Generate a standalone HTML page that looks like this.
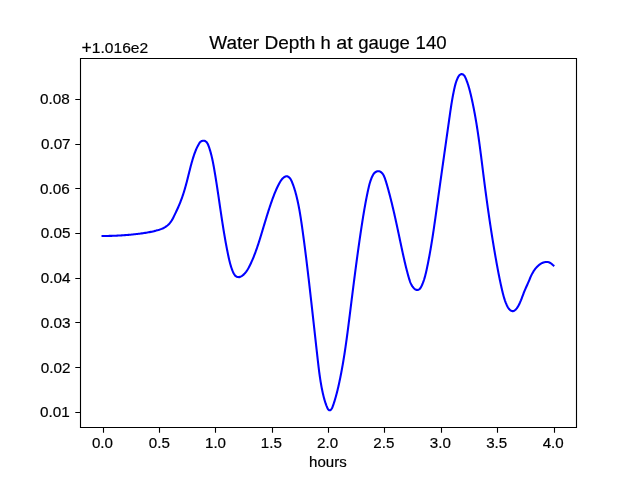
<!DOCTYPE html>
<html><head><meta charset="utf-8"><title>Water Depth h at gauge 140</title>
<style>
html,body{margin:0;padding:0;background:#fff;}
body{width:640px;height:480px;overflow:hidden;}
svg{display:block;will-change:transform;}
text{font-family:"Liberation Sans",sans-serif;fill:#000;stroke:#000;stroke-width:0.18px;}
</style></head><body>
<svg width="640" height="480" viewBox="0 0 640 480">
<rect x="0" y="0" width="640" height="480" fill="#fff"/>
<path d="M102.55,235.97 L103.67,235.97 L104.80,235.97 L105.92,235.96 L107.05,235.94 L108.18,235.93 L109.31,235.91 L110.43,235.88 L111.56,235.85 L112.68,235.81 L113.81,235.78 L114.93,235.73 L116.06,235.68 L117.18,235.63 L118.31,235.58 L119.43,235.52 L120.56,235.45 L121.68,235.38 L122.80,235.31 L123.93,235.23 L125.05,235.15 L126.17,235.06 L127.29,234.97 L128.42,234.87 L129.54,234.77 L130.66,234.67 L131.78,234.56 L132.90,234.45 L134.02,234.33 L135.14,234.21 L136.26,234.08 L137.38,233.95 L138.50,233.81 L139.62,233.67 L140.73,233.53 L141.85,233.38 L142.97,233.22 L144.08,233.06 L145.20,232.89 L146.31,232.71 L147.42,232.52 L148.53,232.32 L149.63,232.11 L150.74,231.89 L151.84,231.66 L152.94,231.41 L154.04,231.15 L155.13,230.88 L156.22,230.60 L157.31,230.29 L158.39,229.98 L159.46,229.64 L160.53,229.27 L161.58,228.88 L162.62,228.44 L163.63,227.97 L164.62,227.44 L165.58,226.86 L166.51,226.22 L167.41,225.52 L168.26,224.76 L169.07,223.95 L169.82,223.10 L170.52,222.21 L171.17,221.29 L171.77,220.35 L172.34,219.38 L172.88,218.40 L173.40,217.40 L173.90,216.39 L174.39,215.38 L174.88,214.37 L175.37,213.35 L175.86,212.34 L176.35,211.32 L176.83,210.30 L177.30,209.28 L177.77,208.25 L178.22,207.22 L178.67,206.19 L179.11,205.15 L179.54,204.11 L179.97,203.07 L180.38,202.02 L180.79,200.97 L181.19,199.91 L181.58,198.86 L181.97,197.80 L182.34,196.73 L182.71,195.67 L183.07,194.60 L183.42,193.53 L183.76,192.46 L184.10,191.39 L184.43,190.31 L184.75,189.23 L185.06,188.15 L185.37,187.07 L185.67,185.99 L185.97,184.90 L186.26,183.81 L186.55,182.73 L186.83,181.64 L187.11,180.55 L187.39,179.46 L187.67,178.37 L187.94,177.27 L188.21,176.18 L188.48,175.09 L188.76,174.00 L189.03,172.90 L189.30,171.81 L189.58,170.72 L189.85,169.63 L190.13,168.54 L190.41,167.44 L190.70,166.35 L190.99,165.26 L191.28,164.18 L191.58,163.09 L191.89,162.00 L192.20,160.92 L192.52,159.83 L192.84,158.75 L193.17,157.67 L193.51,156.59 L193.87,155.52 L194.23,154.45 L194.60,153.38 L194.99,152.32 L195.39,151.27 L195.81,150.22 L196.25,149.19 L196.71,148.16 L197.19,147.15 L197.68,146.15 L198.21,145.16 L198.75,144.18 L199.33,143.22 L199.98,142.33 L200.79,141.56 L201.81,140.98 L202.98,140.67 L204.16,140.69 L205.22,141.07 L206.14,141.73 L206.90,142.56 L207.52,143.49 L208.02,144.49 L208.45,145.54 L208.83,146.61 L209.20,147.68 L209.55,148.76 L209.89,149.84 L210.22,150.92 L210.53,152.01 L210.83,153.10 L211.12,154.19 L211.40,155.28 L211.66,156.38 L211.92,157.47 L212.17,158.57 L212.41,159.67 L212.64,160.77 L212.87,161.87 L213.09,162.98 L213.30,164.08 L213.51,165.19 L213.71,166.30 L213.91,167.40 L214.10,168.51 L214.29,169.62 L214.48,170.73 L214.67,171.84 L214.86,172.95 L215.05,174.06 L215.23,175.17 L215.41,176.28 L215.59,177.39 L215.77,178.51 L215.95,179.62 L216.13,180.73 L216.30,181.84 L216.47,182.95 L216.65,184.07 L216.82,185.18 L216.99,186.29 L217.16,187.41 L217.33,188.52 L217.50,189.63 L217.66,190.75 L217.83,191.86 L218.00,192.98 L218.16,194.09 L218.33,195.20 L218.49,196.32 L218.66,197.43 L218.82,198.55 L218.98,199.66 L219.15,200.78 L219.31,201.89 L219.47,203.01 L219.64,204.12 L219.80,205.24 L219.96,206.35 L220.13,207.47 L220.29,208.58 L220.46,209.70 L220.62,210.81 L220.79,211.92 L220.95,213.04 L221.12,214.15 L221.28,215.27 L221.45,216.38 L221.62,217.50 L221.79,218.61 L221.96,219.72 L222.13,220.84 L222.30,221.95 L222.47,223.06 L222.64,224.18 L222.82,225.29 L223.00,226.40 L223.17,227.51 L223.35,228.63 L223.53,229.74 L223.71,230.85 L223.90,231.96 L224.08,233.07 L224.27,234.18 L224.45,235.29 L224.64,236.40 L224.84,237.51 L225.03,238.62 L225.22,239.73 L225.42,240.84 L225.62,241.95 L225.82,243.06 L226.03,244.16 L226.23,245.27 L226.44,246.38 L226.65,247.48 L226.87,248.59 L227.08,249.69 L227.30,250.80 L227.52,251.90 L227.74,253.01 L227.97,254.11 L228.20,255.21 L228.43,256.31 L228.67,257.42 L228.91,258.52 L229.16,259.61 L229.42,260.71 L229.69,261.80 L229.97,262.89 L230.26,263.98 L230.57,265.06 L230.89,266.14 L231.23,267.21 L231.59,268.28 L231.97,269.34 L232.36,270.40 L232.79,271.45 L233.25,272.48 L233.76,273.50 L234.33,274.48 L234.99,275.40 L235.78,276.18 L236.76,276.76 L237.88,277.08 L239.03,277.12 L240.13,276.87 L241.16,276.40 L242.12,275.79 L243.02,275.11 L243.86,274.36 L244.64,273.56 L245.38,272.72 L246.08,271.83 L246.73,270.90 L247.35,269.95 L247.94,268.99 L248.51,268.00 L249.05,267.01 L249.57,266.01 L250.07,265.00 L250.56,263.99 L251.04,262.97 L251.50,261.94 L251.96,260.92 L252.41,259.88 L252.85,258.85 L253.28,257.81 L253.70,256.77 L254.12,255.72 L254.52,254.67 L254.93,253.62 L255.32,252.57 L255.71,251.51 L256.09,250.45 L256.47,249.39 L256.84,248.33 L257.21,247.27 L257.57,246.20 L257.92,245.13 L258.28,244.06 L258.63,242.99 L258.97,241.91 L259.31,240.84 L259.65,239.77 L259.99,238.69 L260.32,237.61 L260.65,236.53 L260.98,235.46 L261.31,234.38 L261.64,233.30 L261.96,232.22 L262.29,231.14 L262.61,230.06 L262.93,228.98 L263.26,227.90 L263.58,226.82 L263.90,225.74 L264.23,224.67 L264.55,223.59 L264.88,222.51 L265.20,221.43 L265.53,220.35 L265.86,219.28 L266.19,218.20 L266.52,217.12 L266.85,216.05 L267.18,214.97 L267.52,213.90 L267.86,212.83 L268.20,211.75 L268.54,210.68 L268.89,209.61 L269.24,208.54 L269.59,207.47 L269.94,206.40 L270.30,205.33 L270.66,204.27 L271.03,203.20 L271.40,202.14 L271.77,201.08 L272.15,200.02 L272.53,198.96 L272.92,197.90 L273.31,196.84 L273.71,195.79 L274.12,194.73 L274.53,193.68 L274.95,192.64 L275.38,191.60 L275.82,190.56 L276.27,189.52 L276.73,188.50 L277.20,187.47 L277.68,186.46 L278.18,185.44 L278.69,184.44 L279.22,183.44 L279.76,182.46 L280.34,181.49 L280.96,180.55 L281.62,179.64 L282.34,178.77 L283.13,177.96 L284.02,177.24 L285.02,176.66 L286.11,176.30 L287.20,176.30 L288.24,176.72 L289.17,177.42 L289.97,178.27 L290.62,179.20 L291.17,180.18 L291.65,181.21 L292.09,182.25 L292.51,183.30 L292.91,184.35 L293.30,185.41 L293.67,186.47 L294.03,187.53 L294.37,188.60 L294.70,189.68 L295.03,190.75 L295.34,191.84 L295.64,192.92 L295.93,194.01 L296.22,195.10 L296.50,196.20 L296.76,197.29 L297.03,198.39 L297.28,199.49 L297.53,200.59 L297.77,201.69 L298.01,202.79 L298.24,203.90 L298.46,205.00 L298.68,206.10 L298.89,207.21 L299.10,208.32 L299.31,209.42 L299.51,210.53 L299.70,211.64 L299.89,212.75 L300.08,213.86 L300.26,214.97 L300.44,216.08 L300.62,217.19 L300.79,218.30 L300.97,219.42 L301.13,220.53 L301.30,221.64 L301.46,222.76 L301.63,223.87 L301.79,224.99 L301.95,226.10 L302.11,227.22 L302.26,228.33 L302.42,229.45 L302.58,230.56 L302.73,231.68 L302.89,232.79 L303.04,233.91 L303.19,235.03 L303.34,236.14 L303.49,237.26 L303.64,238.37 L303.79,239.49 L303.94,240.61 L304.09,241.73 L304.23,242.84 L304.38,243.96 L304.52,245.08 L304.67,246.19 L304.81,247.31 L304.96,248.43 L305.10,249.55 L305.24,250.66 L305.38,251.78 L305.52,252.90 L305.66,254.02 L305.80,255.14 L305.94,256.25 L306.08,257.37 L306.22,258.49 L306.35,259.61 L306.49,260.73 L306.63,261.84 L306.76,262.96 L306.90,264.08 L307.03,265.20 L307.17,266.32 L307.30,267.44 L307.44,268.55 L307.57,269.67 L307.70,270.79 L307.84,271.91 L307.97,273.03 L308.10,274.15 L308.23,275.27 L308.36,276.38 L308.49,277.50 L308.63,278.62 L308.76,279.74 L308.89,280.86 L309.02,281.98 L309.15,283.10 L309.28,284.21 L309.40,285.33 L309.53,286.45 L309.66,287.57 L309.79,288.69 L309.92,289.81 L310.05,290.93 L310.17,292.05 L310.30,293.16 L310.43,294.28 L310.56,295.40 L310.68,296.52 L310.81,297.64 L310.94,298.76 L311.06,299.88 L311.19,301.00 L311.32,302.12 L311.44,303.23 L311.57,304.35 L311.69,305.47 L311.82,306.59 L311.94,307.71 L312.07,308.83 L312.19,309.95 L312.32,311.07 L312.44,312.19 L312.57,313.31 L312.69,314.42 L312.82,315.54 L312.94,316.66 L313.07,317.78 L313.19,318.90 L313.32,320.02 L313.44,321.14 L313.56,322.26 L313.69,323.38 L313.81,324.50 L313.94,325.62 L314.06,326.74 L314.18,327.86 L314.31,328.97 L314.43,330.09 L314.56,331.21 L314.68,332.33 L314.81,333.45 L314.93,334.57 L315.05,335.69 L315.18,336.81 L315.30,337.93 L315.43,339.05 L315.55,340.17 L315.68,341.29 L315.80,342.41 L315.93,343.53 L316.05,344.65 L316.17,345.77 L316.30,346.89 L316.43,348.01 L316.55,349.13 L316.68,350.25 L316.80,351.37 L316.93,352.49 L317.05,353.61 L317.18,354.73 L317.30,355.85 L317.43,356.97 L317.56,358.09 L317.68,359.21 L317.81,360.33 L317.94,361.45 L318.07,362.57 L318.20,363.69 L318.33,364.81 L318.46,365.93 L318.59,367.05 L318.73,368.16 L318.87,369.28 L319.01,370.40 L319.15,371.52 L319.30,372.63 L319.45,373.75 L319.60,374.87 L319.76,375.98 L319.92,377.09 L320.08,378.21 L320.25,379.32 L320.43,380.43 L320.60,381.54 L320.79,382.65 L320.98,383.76 L321.17,384.87 L321.37,385.97 L321.57,387.08 L321.78,388.18 L322.00,389.29 L322.22,390.39 L322.46,391.49 L322.69,392.59 L322.94,393.68 L323.19,394.78 L323.45,395.87 L323.72,396.96 L324.00,398.05 L324.30,399.14 L324.61,400.23 L324.93,401.31 L325.27,402.39 L325.63,403.47 L326.02,404.54 L326.42,405.61 L326.85,406.68 L327.30,407.74 L327.80,408.77 L328.45,409.67 L329.34,410.28 L330.32,410.17 L331.18,409.43 L331.83,408.51 L332.32,407.50 L332.73,406.44 L333.11,405.37 L333.48,404.30 L333.84,403.22 L334.19,402.14 L334.53,401.07 L334.86,399.98 L335.19,398.90 L335.50,397.82 L335.81,396.73 L336.11,395.64 L336.41,394.55 L336.69,393.46 L336.97,392.37 L337.25,391.28 L337.52,390.18 L337.78,389.09 L338.04,387.99 L338.29,386.90 L338.54,385.80 L338.79,384.70 L339.03,383.60 L339.27,382.50 L339.50,381.40 L339.73,380.30 L339.96,379.20 L340.19,378.09 L340.41,376.99 L340.63,375.89 L340.85,374.78 L341.06,373.68 L341.27,372.57 L341.48,371.47 L341.69,370.36 L341.89,369.25 L342.10,368.15 L342.29,367.04 L342.49,365.93 L342.69,364.82 L342.88,363.71 L343.07,362.61 L343.25,361.50 L343.44,360.39 L343.62,359.27 L343.80,358.16 L343.98,357.05 L344.16,355.94 L344.34,354.83 L344.51,353.72 L344.68,352.60 L344.85,351.49 L345.02,350.38 L345.18,349.26 L345.35,348.15 L345.51,347.04 L345.67,345.92 L345.83,344.81 L345.99,343.69 L346.15,342.58 L346.31,341.46 L346.46,340.35 L346.62,339.23 L346.77,338.11 L346.92,337.00 L347.07,335.88 L347.22,334.76 L347.37,333.65 L347.52,332.53 L347.66,331.41 L347.81,330.30 L347.95,329.18 L348.10,328.06 L348.24,326.94 L348.39,325.83 L348.53,324.71 L348.67,323.59 L348.81,322.47 L348.95,321.35 L349.10,320.24 L349.24,319.12 L349.38,318.00 L349.52,316.88 L349.66,315.76 L349.80,314.65 L349.94,313.53 L350.08,312.41 L350.22,311.29 L350.36,310.17 L350.50,309.05 L350.64,307.94 L350.78,306.82 L350.92,305.70 L351.06,304.58 L351.20,303.46 L351.34,302.35 L351.48,301.23 L351.62,300.11 L351.76,298.99 L351.90,297.88 L352.04,296.76 L352.18,295.64 L352.32,294.52 L352.46,293.40 L352.60,292.29 L352.74,291.17 L352.89,290.05 L353.03,288.93 L353.17,287.82 L353.31,286.70 L353.45,285.58 L353.60,284.46 L353.74,283.35 L353.88,282.23 L354.02,281.11 L354.17,280.00 L354.31,278.88 L354.46,277.76 L354.60,276.64 L354.75,275.53 L354.89,274.41 L355.04,273.29 L355.18,272.18 L355.33,271.06 L355.47,269.94 L355.62,268.83 L355.77,267.71 L355.92,266.59 L356.06,265.48 L356.21,264.36 L356.36,263.25 L356.51,262.13 L356.66,261.01 L356.81,259.90 L356.96,258.78 L357.11,257.67 L357.27,256.55 L357.42,255.43 L357.57,254.32 L357.73,253.20 L357.88,252.09 L358.03,250.97 L358.19,249.86 L358.35,248.74 L358.50,247.63 L358.66,246.51 L358.82,245.40 L358.97,244.28 L359.13,243.17 L359.29,242.05 L359.45,240.94 L359.61,239.83 L359.78,238.71 L359.94,237.60 L360.10,236.48 L360.26,235.37 L360.43,234.26 L360.59,233.14 L360.76,232.03 L360.93,230.92 L361.09,229.80 L361.26,228.69 L361.43,227.58 L361.60,226.46 L361.77,225.35 L361.94,224.24 L362.12,223.12 L362.29,222.01 L362.46,220.90 L362.64,219.79 L362.82,218.68 L362.99,217.56 L363.17,216.45 L363.35,215.34 L363.54,214.23 L363.72,213.12 L363.91,212.01 L364.10,210.90 L364.29,209.79 L364.48,208.68 L364.67,207.57 L364.87,206.46 L365.07,205.35 L365.27,204.24 L365.47,203.13 L365.68,202.02 L365.89,200.92 L366.10,199.81 L366.31,198.70 L366.53,197.59 L366.75,196.49 L366.97,195.38 L367.20,194.27 L367.43,193.17 L367.66,192.06 L367.90,190.96 L368.14,189.85 L368.39,188.75 L368.64,187.65 L368.90,186.55 L369.17,185.45 L369.45,184.36 L369.75,183.28 L370.06,182.20 L370.40,181.13 L370.76,180.07 L371.15,179.02 L371.56,177.98 L372.00,176.95 L372.48,175.94 L372.99,174.95 L373.57,174.00 L374.27,173.12 L375.12,172.36 L376.15,171.74 L377.27,171.33 L378.42,171.18 L379.52,171.34 L380.51,171.79 L381.40,172.42 L382.17,173.17 L382.84,174.03 L383.43,174.97 L383.95,175.98 L384.40,177.04 L384.82,178.13 L385.19,179.23 L385.55,180.33 L385.90,181.42 L386.24,182.51 L386.56,183.59 L386.88,184.67 L387.19,185.74 L387.49,186.82 L387.80,187.90 L388.10,188.98 L388.40,190.06 L388.69,191.14 L388.98,192.23 L389.27,193.31 L389.56,194.39 L389.85,195.48 L390.13,196.57 L390.41,197.66 L390.68,198.75 L390.96,199.83 L391.23,200.93 L391.50,202.02 L391.77,203.11 L392.04,204.20 L392.30,205.30 L392.56,206.39 L392.82,207.49 L393.08,208.58 L393.34,209.68 L393.59,210.78 L393.85,211.87 L394.10,212.97 L394.35,214.07 L394.60,215.17 L394.84,216.27 L395.09,217.37 L395.34,218.47 L395.58,219.57 L395.82,220.67 L396.06,221.77 L396.30,222.88 L396.54,223.98 L396.78,225.08 L397.02,226.18 L397.26,227.28 L397.49,228.39 L397.73,229.49 L397.97,230.59 L398.20,231.70 L398.43,232.80 L398.67,233.90 L398.90,235.01 L399.14,236.11 L399.37,237.21 L399.60,238.31 L399.83,239.42 L400.07,240.52 L400.30,241.62 L400.53,242.72 L400.77,243.83 L401.00,244.93 L401.23,246.03 L401.47,247.13 L401.70,248.23 L401.94,249.33 L402.18,250.43 L402.41,251.53 L402.65,252.63 L402.89,253.73 L403.13,254.83 L403.38,255.92 L403.62,257.02 L403.87,258.12 L404.12,259.21 L404.37,260.31 L404.62,261.41 L404.88,262.50 L405.14,263.60 L405.40,264.69 L405.66,265.78 L405.93,266.88 L406.20,267.97 L406.48,269.06 L406.76,270.16 L407.04,271.25 L407.33,272.34 L407.62,273.43 L407.92,274.52 L408.22,275.61 L408.52,276.70 L408.83,277.79 L409.15,278.87 L409.48,279.95 L409.84,281.02 L410.22,282.08 L410.65,283.12 L411.11,284.14 L411.63,285.13 L412.21,286.09 L412.86,287.01 L413.59,287.89 L414.40,288.73 L415.31,289.42 L416.35,289.84 L417.49,289.91 L418.61,289.65 L419.59,289.08 L420.34,288.28 L420.92,287.31 L421.43,286.29 L421.91,285.27 L422.36,284.23 L422.79,283.18 L423.19,282.13 L423.57,281.07 L423.94,280.01 L424.28,278.94 L424.60,277.86 L424.91,276.78 L425.21,275.69 L425.49,274.60 L425.76,273.51 L426.02,272.41 L426.27,271.32 L426.52,270.21 L426.75,269.11 L426.99,268.01 L427.22,266.91 L427.45,265.80 L427.67,264.70 L427.90,263.59 L428.12,262.49 L428.33,261.38 L428.55,260.28 L428.76,259.17 L428.97,258.06 L429.18,256.96 L429.39,255.85 L429.59,254.74 L429.79,253.63 L429.99,252.53 L430.19,251.42 L430.38,250.31 L430.57,249.20 L430.76,248.09 L430.95,246.98 L431.14,245.87 L431.32,244.76 L431.51,243.65 L431.69,242.53 L431.87,241.42 L432.05,240.31 L432.22,239.20 L432.40,238.09 L432.57,236.97 L432.74,235.86 L432.92,234.75 L433.09,233.63 L433.25,232.52 L433.42,231.41 L433.59,230.29 L433.75,229.18 L433.92,228.07 L434.08,226.95 L434.24,225.84 L434.40,224.72 L434.56,223.61 L434.72,222.49 L434.88,221.38 L435.04,220.26 L435.20,219.15 L435.36,218.03 L435.51,216.92 L435.67,215.80 L435.83,214.69 L435.98,213.57 L436.14,212.46 L436.29,211.34 L436.45,210.22 L436.60,209.11 L436.75,207.99 L436.91,206.88 L437.06,205.76 L437.22,204.64 L437.37,203.53 L437.53,202.41 L437.68,201.30 L437.84,200.18 L437.99,199.07 L438.15,197.95 L438.30,196.84 L438.46,195.72 L438.61,194.60 L438.77,193.49 L438.92,192.37 L439.08,191.26 L439.24,190.14 L439.39,189.03 L439.55,187.91 L439.70,186.79 L439.86,185.68 L440.02,184.56 L440.17,183.45 L440.33,182.33 L440.48,181.22 L440.64,180.10 L440.80,178.99 L440.95,177.87 L441.11,176.76 L441.27,175.64 L441.42,174.52 L441.58,173.41 L441.74,172.29 L441.89,171.18 L442.05,170.06 L442.21,168.95 L442.36,167.83 L442.52,166.72 L442.68,165.60 L442.84,164.49 L442.99,163.37 L443.15,162.25 L443.31,161.14 L443.47,160.02 L443.62,158.91 L443.78,157.79 L443.94,156.68 L444.09,155.56 L444.25,154.45 L444.41,153.33 L444.57,152.22 L444.73,151.10 L444.88,149.99 L445.04,148.87 L445.20,147.76 L445.36,146.64 L445.51,145.53 L445.67,144.41 L445.83,143.30 L445.99,142.18 L446.14,141.07 L446.30,139.95 L446.46,138.84 L446.62,137.72 L446.78,136.61 L446.93,135.49 L447.09,134.38 L447.25,133.26 L447.41,132.15 L447.56,131.03 L447.72,129.92 L447.88,128.80 L448.04,127.69 L448.20,126.57 L448.35,125.46 L448.51,124.34 L448.67,123.23 L448.83,122.11 L448.98,121.00 L449.14,119.88 L449.30,118.77 L449.46,117.65 L449.62,116.54 L449.77,115.42 L449.93,114.31 L450.09,113.19 L450.25,112.08 L450.41,110.96 L450.58,109.85 L450.74,108.73 L450.91,107.62 L451.08,106.51 L451.25,105.40 L451.43,104.28 L451.61,103.17 L451.79,102.06 L451.97,100.95 L452.16,99.84 L452.35,98.73 L452.55,97.62 L452.75,96.51 L452.96,95.40 L453.17,94.29 L453.39,93.19 L453.61,92.08 L453.84,90.98 L454.07,89.87 L454.31,88.77 L454.56,87.67 L454.82,86.57 L455.09,85.47 L455.38,84.38 L455.69,83.30 L456.02,82.23 L456.39,81.16 L456.78,80.11 L457.20,79.07 L457.67,78.05 L458.17,77.04 L458.74,76.07 L459.45,75.19 L460.38,74.48 L461.47,74.10 L462.57,74.24 L463.55,74.84 L464.32,75.66 L464.91,76.61 L465.40,77.63 L465.85,78.67 L466.28,79.72 L466.69,80.77 L467.09,81.83 L467.47,82.89 L467.83,83.96 L468.18,85.03 L468.51,86.11 L468.84,87.19 L469.15,88.27 L469.45,89.36 L469.74,90.45 L470.02,91.54 L470.29,92.63 L470.56,93.73 L470.82,94.82 L471.08,95.92 L471.33,97.02 L471.58,98.12 L471.82,99.22 L472.06,100.32 L472.30,101.42 L472.54,102.52 L472.77,103.62 L473.00,104.73 L473.22,105.83 L473.44,106.93 L473.66,108.04 L473.88,109.14 L474.09,110.25 L474.30,111.35 L474.51,112.46 L474.72,113.56 L474.92,114.67 L475.12,115.78 L475.31,116.89 L475.51,117.99 L475.70,119.10 L475.89,120.21 L476.08,121.32 L476.26,122.43 L476.45,123.54 L476.63,124.65 L476.81,125.76 L476.98,126.88 L477.16,127.99 L477.33,129.10 L477.50,130.21 L477.67,131.33 L477.84,132.44 L478.00,133.55 L478.17,134.67 L478.33,135.78 L478.49,136.90 L478.65,138.01 L478.81,139.13 L478.96,140.24 L479.12,141.36 L479.27,142.47 L479.42,143.59 L479.58,144.70 L479.73,145.82 L479.88,146.94 L480.02,148.05 L480.17,149.17 L480.32,150.29 L480.46,151.40 L480.61,152.52 L480.75,153.64 L480.90,154.76 L481.04,155.87 L481.18,156.99 L481.32,158.11 L481.46,159.23 L481.60,160.35 L481.75,161.46 L481.89,162.58 L482.03,163.70 L482.17,164.82 L482.31,165.94 L482.45,167.06 L482.59,168.17 L482.73,169.29 L482.87,170.41 L483.01,171.53 L483.15,172.65 L483.29,173.76 L483.43,174.88 L483.57,176.00 L483.71,177.12 L483.85,178.24 L484.00,179.35 L484.14,180.47 L484.28,181.59 L484.43,182.71 L484.57,183.82 L484.72,184.94 L484.86,186.06 L485.01,187.18 L485.16,188.29 L485.30,189.41 L485.45,190.53 L485.60,191.64 L485.75,192.76 L485.90,193.88 L486.05,194.99 L486.20,196.11 L486.35,197.23 L486.50,198.34 L486.65,199.46 L486.80,200.58 L486.96,201.69 L487.11,202.81 L487.27,203.92 L487.42,205.04 L487.58,206.15 L487.73,207.27 L487.89,208.39 L488.05,209.50 L488.21,210.62 L488.37,211.73 L488.53,212.85 L488.69,213.96 L488.85,215.08 L489.01,216.19 L489.17,217.30 L489.34,218.42 L489.50,219.53 L489.66,220.65 L489.83,221.76 L490.00,222.87 L490.16,223.99 L490.33,225.10 L490.50,226.21 L490.67,227.33 L490.84,228.44 L491.01,229.55 L491.18,230.67 L491.36,231.78 L491.53,232.89 L491.70,234.00 L491.88,235.12 L492.06,236.23 L492.23,237.34 L492.41,238.45 L492.59,239.56 L492.77,240.67 L492.95,241.79 L493.13,242.90 L493.32,244.01 L493.50,245.12 L493.68,246.23 L493.87,247.34 L494.06,248.45 L494.24,249.56 L494.43,250.67 L494.62,251.78 L494.81,252.89 L495.00,254.00 L495.20,255.11 L495.39,256.22 L495.58,257.33 L495.78,258.43 L495.98,259.54 L496.18,260.65 L496.37,261.76 L496.57,262.87 L496.78,263.98 L496.98,265.08 L497.18,266.19 L497.39,267.30 L497.59,268.40 L497.80,269.51 L498.01,270.62 L498.22,271.72 L498.43,272.83 L498.65,273.93 L498.86,275.04 L499.08,276.14 L499.30,277.25 L499.53,278.35 L499.75,279.46 L499.98,280.56 L500.21,281.66 L500.44,282.77 L500.68,283.87 L500.92,284.97 L501.17,286.07 L501.41,287.17 L501.66,288.27 L501.92,289.37 L502.17,290.47 L502.43,291.57 L502.70,292.67 L502.97,293.76 L503.25,294.85 L503.54,295.94 L503.85,297.03 L504.17,298.11 L504.50,299.18 L504.85,300.25 L505.23,301.31 L505.62,302.36 L506.04,303.40 L506.48,304.43 L506.95,305.46 L507.45,306.46 L508.00,307.45 L508.61,308.38 L509.31,309.25 L510.14,310.02 L511.10,310.68 L512.19,311.11 L513.28,311.10 L514.31,310.68 L515.23,310.01 L516.05,309.21 L516.77,308.32 L517.42,307.38 L518.02,306.43 L518.57,305.45 L519.08,304.45 L519.57,303.44 L520.04,302.42 L520.48,301.39 L520.92,300.35 L521.33,299.31 L521.74,298.26 L522.14,297.20 L522.54,296.15 L522.93,295.09 L523.33,294.03 L523.73,292.98 L524.14,291.93 L524.56,290.88 L524.99,289.85 L525.44,288.81 L525.90,287.79 L526.36,286.76 L526.82,285.74 L527.29,284.72 L527.75,283.69 L528.20,282.66 L528.65,281.63 L529.09,280.59 L529.52,279.54 L529.95,278.50 L530.39,277.46 L530.84,276.43 L531.32,275.40 L531.81,274.39 L532.33,273.39 L532.88,272.41 L533.46,271.44 L534.07,270.50 L534.72,269.58 L535.39,268.69 L536.11,267.83 L536.87,266.99 L537.67,266.20 L538.51,265.43 L539.40,264.71 L540.33,264.05 L541.30,263.44 L542.30,262.93 L543.34,262.50 L544.41,262.19 L545.50,262.01 L546.62,261.96 L547.74,262.07 L548.84,262.32 L549.89,262.73 L550.86,263.30 L551.75,264.02 L552.58,264.80 L553.45,265.49" fill="none" stroke="#0000ff" stroke-width="2.08" stroke-linejoin="round" stroke-linecap="square"/>
<g stroke="#000" stroke-width="1.11" fill="none">
<path d="M80.5,58.5 H576.5 V427.5 H80.5 Z" stroke-linejoin="miter"/>
<path d="M80,99.5 H75.3 M80,144.5 H75.3 M80,188.5 H75.3 M80,233.5 H75.3 M80,278.5 H75.3 M80,322.5 H75.3 M80,367.5 H75.3 M80,412.5 H75.3 M103.5,428 V432.75 M159.5,428 V432.75 M215.5,428 V432.75 M272.5,428 V432.75 M328.5,428 V432.75 M384.5,428 V432.75 M441.5,428 V432.75 M497.5,428 V432.75 M554.5,428 V432.75"/>
</g>
<text transform="translate(40.05,104.05) scale(1.1000,1)" font-size="13.89">0.08</text>
<text transform="translate(40.89,149.05) scale(1.1000,1)" font-size="13.89">0.07</text>
<text transform="translate(39.98,194.00) scale(1.1000,1)" font-size="13.89">0.06</text>
<text transform="translate(40.65,238.05) scale(1.1000,1)" font-size="13.89">0.05</text>
<text transform="translate(40.69,283.05) scale(1.1000,1)" font-size="13.89">0.04</text>
<text transform="translate(40.75,328.00) scale(1.1000,1)" font-size="13.89">0.03</text>
<text transform="translate(40.79,372.90) scale(1.1000,1)" font-size="13.89">0.02</text>
<text transform="translate(40.04,416.90) scale(1.1000,1)" font-size="13.89">0.01</text>
<text transform="translate(91.88,448.30) scale(1.0900,1)" font-size="13.89">0.0</text>
<text transform="translate(148.76,448.30) scale(1.0900,1)" font-size="13.89">0.5</text>
<text transform="translate(204.99,448.30) scale(1.0900,1)" font-size="13.89">1.0</text>
<text transform="translate(260.86,448.30) scale(1.0900,1)" font-size="13.89">1.5</text>
<text transform="translate(317.12,448.30) scale(1.0900,1)" font-size="13.89">2.0</text>
<text transform="translate(373.37,448.30) scale(1.0900,1)" font-size="13.89">2.5</text>
<text transform="translate(429.76,448.30) scale(1.0900,1)" font-size="13.89">3.0</text>
<text transform="translate(486.13,448.30) scale(1.0900,1)" font-size="13.89">3.5</text>
<text transform="translate(542.64,448.30) scale(1.0900,1)" font-size="13.89">4.0</text>
<text transform="translate(309.12,467.00) scale(1.0827,1)" font-size="13.89">hours</text>
<text transform="translate(81.55,54.10) scale(0.9943,1)" font-size="17.6">+</text>
<text transform="translate(91.78,52.90) scale(1.1237,1)" font-size="13.89">1.016e2</text>
<text transform="translate(209.23,48.70) scale(1.0739,1)" font-size="17.66">Water</text>
<text transform="translate(264.48,48.70) scale(1.0787,1)" font-size="17.66">Depth</text>
<text transform="translate(320.60,48.70) scale(1.0400,1)" font-size="17.66">h</text>
<text transform="translate(336.26,48.70) scale(1.1200,1)" font-size="17.66">at</text>
<text transform="translate(358.21,48.70) scale(1.0505,1)" font-size="17.66">gauge</text>
<text transform="translate(415.58,48.70) scale(1.0545,1)" font-size="17.66">140</text>
</svg>
</body></html>
